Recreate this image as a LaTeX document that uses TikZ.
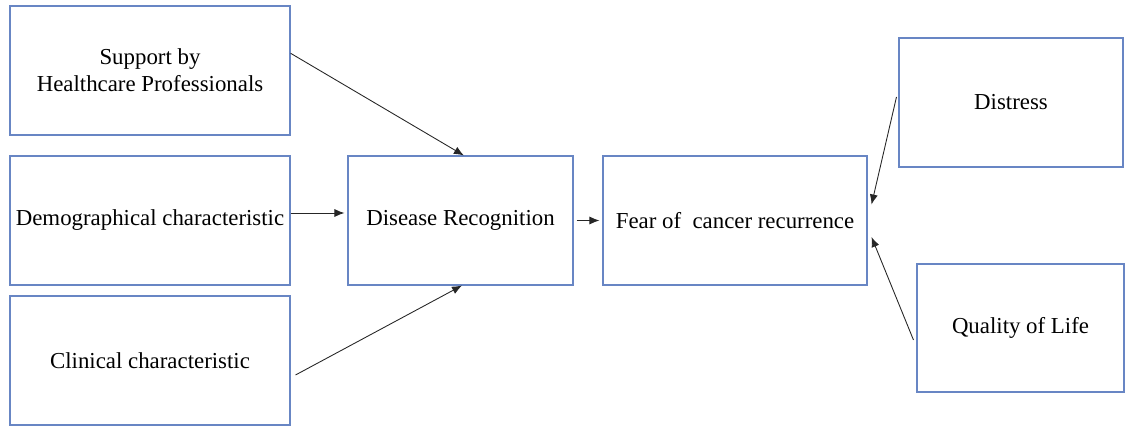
\documentclass[tikz,border=0pt]{standalone}
\usepackage{fontspec}
\setmainfont{Liberation Serif}
\definecolor{boxblue}{RGB}{104,134,196}
\usetikzlibrary{arrows.meta}

\begin{document}
\begin{tikzpicture}[
    factor/.style={draw=boxblue, line width=0.6pt, minimum height=2.58cm, inner sep=0pt, align=center, font=\fontsize{13}{15.5}\selectfont},
    link/.style={-{Latex[length=2mm, width=1.6mm]}, line width=0.5pt, black!85}
  ]
  \useasboundingbox (0,0) rectangle (22.52,8.52);
  % Left column: influencing factors
  \node[factor, minimum width=5.6cm] (support) at (3.0,7.11) {Support by\\Healthcare Professionals};
  \node[factor, minimum width=5.6cm] (demo) at (3.0,4.11) {Demographical characteristic};
  \node[factor, minimum width=5.6cm] (clinical) at (3.0,1.31) {Clinical characteristic};
  % Middle: recognition and fear
  \node[factor, minimum width=4.5cm] (disease) at (9.21,4.11) {Disease Recognition};
  \node[factor, minimum width=5.28cm] (fear) at (14.7,4.11) {Fear of~ cancer recurrence};
  % Right column: outcomes
  \node[factor, minimum width=4.48cm] (distress) at (20.22,6.47) {Distress};
  \node[factor, minimum width=4.14cm, minimum height=2.56cm] (qol) at (20.41,1.96) {Quality of Life};
  % Arrows
  \draw[link] (support.7) -- (disease.87);
  \draw[link] ([yshift=0.15cm]demo.east) -- ([xshift=-0.06cm, yshift=0.15cm]disease.west);
  \draw[link] ([xshift=0.1cm, yshift=-0.29cm]clinical.east) -- ([xshift=0.03cm]disease.south);
  \draw[link] ([xshift=0.06cm]disease.east) -- ([xshift=-0.06cm]fear.west);
  \draw[link] ([xshift=-0.04cm, yshift=0.11cm]distress.west) -- ([xshift=0.08cm, yshift=0.32cm]fear.east);
  \draw[link] ([xshift=-0.06cm, yshift=-0.24cm]qol.west) -- ([xshift=0.08cm, yshift=-0.33cm]fear.east);
\end{tikzpicture}
\end{document}
